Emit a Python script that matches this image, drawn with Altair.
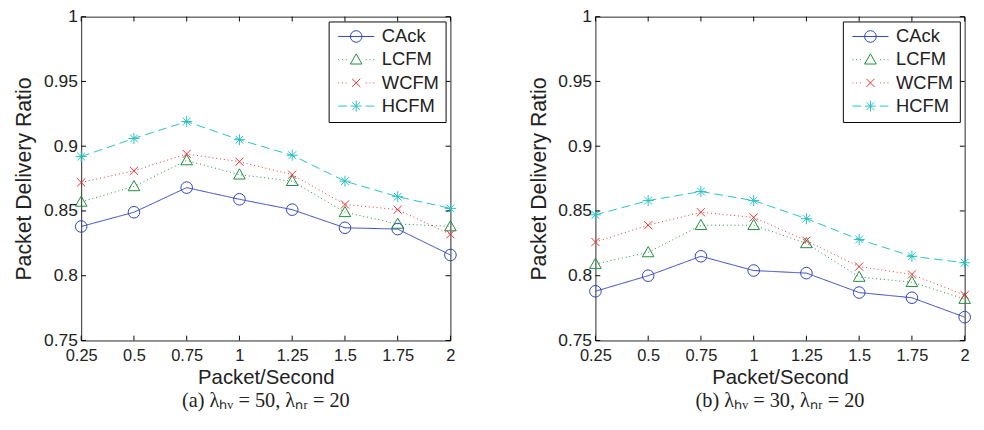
import altair as alt
import pandas as pd

# ---------------- data ----------------
x_vals = [0.25, 0.5, 0.75, 1.0, 1.25, 1.5, 1.75, 2.0]
y_ticks = [0.75, 0.8, 0.85, 0.9, 0.95, 1.0]
series_names = ["CAck", "LCFM", "WCFM", "HCFM"]

a_cack = [0.838, 0.849, 0.868, 0.859, 0.851, 0.837, 0.836, 0.816]
a_lcfm = [0.857, 0.869, 0.889, 0.878, 0.873, 0.849, 0.840, 0.838]
a_wcfm = [0.872, 0.881, 0.894, 0.888, 0.878, 0.855, 0.851, 0.832]
a_hcfm = [0.892, 0.906, 0.919, 0.905, 0.893, 0.873, 0.861, 0.852]

b_cack = [0.788, 0.800, 0.815, 0.804, 0.802, 0.787, 0.783, 0.768]
b_lcfm = [0.809, 0.818, 0.839, 0.839, 0.825, 0.799, 0.795, 0.782]
b_wcfm = [0.826, 0.839, 0.849, 0.845, 0.827, 0.807, 0.801, 0.785]
b_hcfm = [0.847, 0.858, 0.865, 0.858, 0.844, 0.828, 0.815, 0.810]

caption_a = "(a) λₕᵥ = 50, λₙᵣ = 20"
caption_b = "(b) λₕᵥ = 30, λₙᵣ = 20"

# ---------------- style ----------------
W, H = 382, 335
TICK = 5
SANS = "Liberation Sans"
SERIF = "Liberation Serif"
INK = "#222222"

colors = ["#2a40b8", "#1a8a3c", "#ee2a2a", "#26bfbf"]
dashes = [[1, 0], [1, 3], [1, 3], [9, 5]]

circle = "M1,0A1,1,0,1,1,-1,0A1,1,0,1,1,1,0Z"
triangle = "M0,-1L1,0.75L-1,0.75Z"
xmark = "M-0.7,-0.7L0.7,0.7M-0.7,0.7L0.7,-0.7"
star = "M-0.95,0L0.95,0M0,-0.95L0,0.95M-0.67,-0.67L0.67,0.67M-0.67,0.67L0.67,-0.67"
marker_paths = [circle, triangle, xmark, star]

dots = "M-3.1,0L-2.95,0M-2.45,0L-2.3,0M-1.8,0L-1.65,0M1.65,0L1.8,0M2.3,0L2.45,0M2.95,0L3.1,0"
legend_paths = [
    "M-3.1,0L3.1,0" + circle,
    dots + triangle,
    dots + xmark,
    "M-3.1,0L-1.6,0M1.6,0L3.1,0" + star,
]

LABEL_EXPR = "'' + datum.value"


def panel(vals, caption):
    rows = []
    for s, v in zip(series_names, vals):
        for xv, yv in zip(x_vals, v):
            rows.append({"x": xv, "y": yv, "series": s})
    df = pd.DataFrame(rows)
    xt = pd.DataFrame({"x": x_vals})
    yt = pd.DataFrame({"y": y_ticks})

    xs = alt.Scale(domain=[0.25, 2.0], nice=False, zero=False)
    ys = alt.Scale(domain=[0.75, 1.0], nice=False, zero=False)
    cs = alt.Scale(domain=series_names, range=colors)

    xaxis = alt.Axis(values=x_vals, labelExpr=LABEL_EXPR, title="Packet/Second", ticks=False,
                     domain=False, grid=False, labelFont=SANS, labelFontSize=17,
                     labelColor=INK, labelPadding=8, labelFlush=False, labelOverlap=False,
                     titleFont=SANS, titleFontSize=21,
                     titleFontWeight="normal", titleColor=INK, titlePadding=4)
    yaxis = alt.Axis(values=y_ticks, labelExpr=LABEL_EXPR, title="Packet Delivery Ratio", ticks=False,
                     domain=False, grid=False, labelFont=SANS, labelFontSize=18,
                     labelColor=INK, labelPadding=4, labelFlush=False, labelOverlap=False,
                     titleFont=SANS, titleFontSize=22,
                     titleFontWeight="normal", titleColor=INK, titlePadding=8)

    lines = alt.Chart(df).mark_line(strokeWidth=1).encode(
        x=alt.X("x:Q", scale=xs, axis=xaxis),
        y=alt.Y("y:Q", scale=ys, axis=yaxis),
        color=alt.Color("series:N", scale=cs, legend=None),
        strokeDash=alt.StrokeDash("series:N", scale=alt.Scale(domain=series_names, range=dashes), legend=None),
    )
    points = alt.Chart(df).mark_point(filled=False, strokeWidth=1, opacity=1, size=144).encode(
        x=alt.X("x:Q", scale=xs, axis=xaxis),
        y=alt.Y("y:Q", scale=ys, axis=yaxis),
        color=alt.Color("series:N", scale=cs, legend=None),
        shape=alt.Shape("series:N", scale=alt.Scale(domain=series_names, range=marker_paths), legend=None),
    )
    leg = alt.Legend(title=None, orient="top-right", offset=5, padding=6,
                     strokeColor="black", fillColor="white", cornerRadius=0,
                     labelFont=SANS, labelFontSize=19, labelColor=INK,
                     symbolSize=144, symbolStrokeWidth=1, symbolOpacity=1,
                     symbolOffset=13, labelOffset=17, rowPadding=4)
    legend_layer = alt.Chart(df).mark_point(filled=False, strokeWidth=1, opacity=0, size=144).encode(
        x=alt.X("x:Q", scale=xs, axis=xaxis),
        y=alt.Y("y:Q", scale=ys, axis=yaxis),
        color=alt.Color("series:N", scale=cs, legend=leg),
        shape=alt.Shape("series:N", scale=alt.Scale(domain=series_names, range=legend_paths), legend=leg),
    )

    tb = alt.Chart(xt).mark_rule(color="black", strokeWidth=1).encode(
        x=alt.X("x:Q", scale=xs, axis=xaxis), y=alt.value(H), y2=alt.value(H - TICK))
    tt = alt.Chart(xt).mark_rule(color="black", strokeWidth=1).encode(
        x=alt.X("x:Q", scale=xs, axis=xaxis), y=alt.value(0), y2=alt.value(TICK))
    tl = alt.Chart(yt).mark_rule(color="black", strokeWidth=1).encode(
        y=alt.Y("y:Q", scale=ys, axis=yaxis), x=alt.value(0), x2=alt.value(TICK))
    tr = alt.Chart(yt).mark_rule(color="black", strokeWidth=1).encode(
        y=alt.Y("y:Q", scale=ys, axis=yaxis), x=alt.value(W), x2=alt.value(W - TICK))

    return alt.layer(lines, points, legend_layer, tb, tt, tl, tr).resolve_scale(
        color="independent", shape="independent", strokeDash="independent"
    ).properties(
        width=W, height=H,
        title=alt.TitleParams(caption, orient="bottom", font=SERIF, fontSize=21,
                              fontWeight="normal", color=INK, offset=3, anchor="middle"),
    )


chart = alt.hconcat(
    panel([a_cack, a_lcfm, a_wcfm, a_hcfm], caption_a),
    panel([b_cack, b_lcfm, b_wcfm, b_hcfm], caption_b),
    spacing=59,
).properties(
    padding={"left": 13, "top": 0, "right": 0, "bottom": 0},
    background="white",
).configure_view(stroke="#222222", strokeWidth=1)

chart.save("out.html", embed_options={"renderer": "svg", "actions": False})
